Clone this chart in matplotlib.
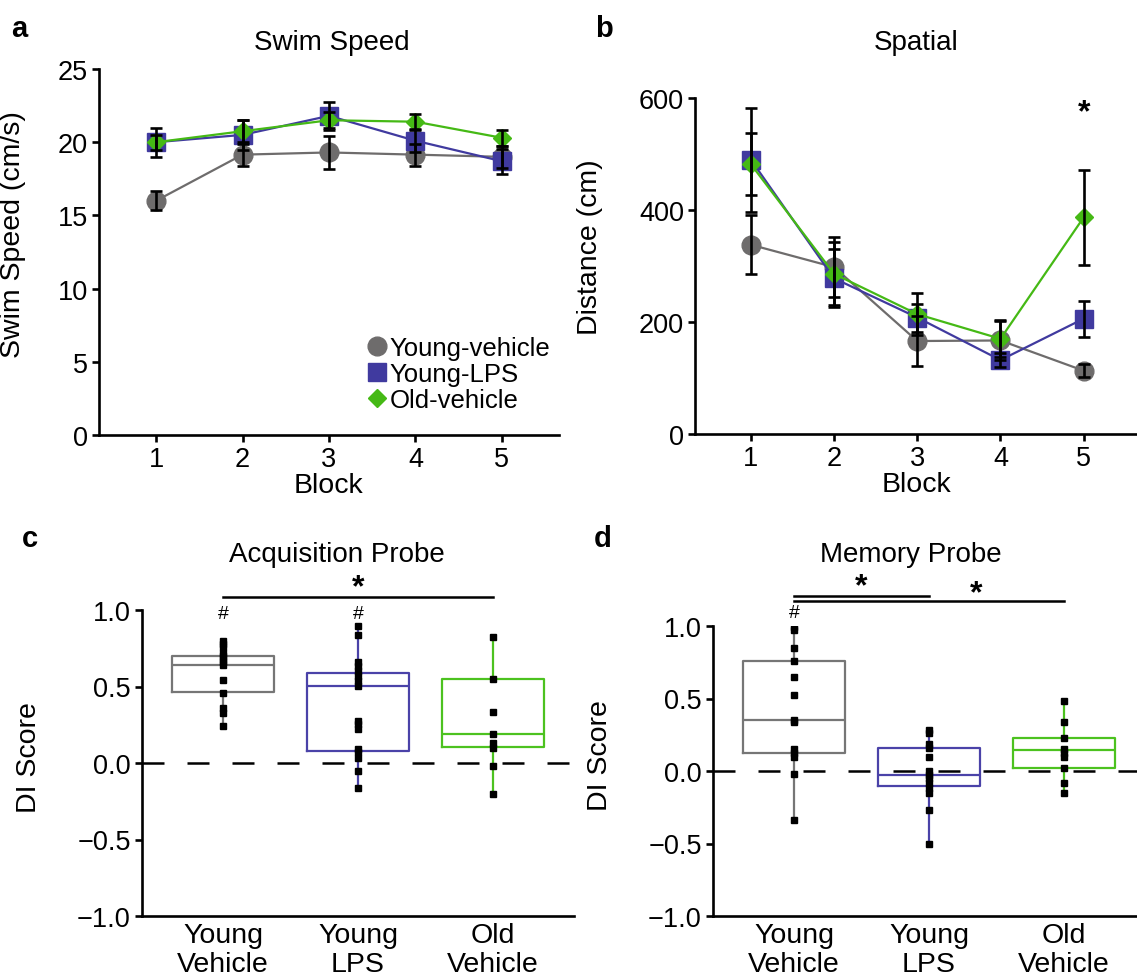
import numpy as np
import matplotlib
matplotlib.use("Agg")
import matplotlib.pyplot as plt

plt.rcParams["font.family"] = ["Liberation Sans", "DejaVu Sans"]

W, H = 1137, 979

# --- panel a/b: block-wise means +/- error ---
blocks = [1, 2, 3, 4, 5]
groups = ["Young-vehicle", "Young-LPS", "Old-vehicle"]

speed_yv = [16.0, 19.15, 19.3, 19.15, 19.0]
speed_yv_err = [0.65, 0.75, 1.1, 0.75, 0.75]
speed_lps = [20.0, 20.5, 21.8, 20.1, 18.7]
speed_lps_err = [0.5, 1.0, 0.95, 0.8, 0.85]
speed_old = [20.0, 20.75, 21.5, 21.4, 20.3]
speed_old_err = [1.0, 0.75, 0.55, 0.55, 0.55]

dist_yv = [338, 298, 166, 167, 113]
dist_yv_err = [53, 53, 44, 35, 12]
dist_lps = [490, 278, 208, 132, 206]
dist_lps_err = [93, 52, 25, 12, 32]
dist_old = [482, 286, 214, 170, 387]
dist_old_err = [55, 56, 38, 33, 85]

# --- panel c/d: DI score boxes and individual animals ---
probe_labels = ["Young\nVehicle", "Young\nLPS", "Old\nVehicle"]

acq_q1 = [0.465, 0.076, 0.102]
acq_med = [0.643, 0.504, 0.187]
acq_q3 = [0.70, 0.587, 0.548]
acq_lo = [0.243, -0.165, -0.202]
acq_hi = [0.80, 0.896, 0.824]
acq_pts_yv = [0.80, 0.78, 0.76, 0.72, 0.70, 0.68, 0.66, 0.64, 0.54, 0.46, 0.36, 0.33, 0.24]
acq_pts_lps = [0.895, 0.835, 0.657, 0.635, 0.60, 0.57, 0.537, 0.504, 0.276, 0.254,
               0.22, 0.09, 0.07, 0.03, -0.05, -0.165]
acq_pts_old = [0.824, 0.548, 0.335, 0.19, 0.128, 0.098, -0.017, -0.202]

mem_q1 = [0.123, -0.105, 0.02]
mem_med = [0.352, -0.025, 0.144]
mem_q3 = [0.76, 0.162, 0.226]
mem_lo = [-0.338, -0.505, -0.15]
mem_hi = [0.99, 0.283, 0.482]
mem_pts_yv = [0.99, 0.97, 0.847, 0.76, 0.646, 0.523, 0.352, 0.336, 0.15, 0.123, 0.10, -0.018, -0.338]
mem_pts_lps = [0.283, 0.26, 0.185, 0.162, 0.10, 0.0, -0.025, -0.05, -0.08, -0.117, -0.15, -0.27, -0.505]
mem_pts_old = [0.482, 0.338, 0.226, 0.15, 0.123, 0.096, 0.02, -0.082, -0.15]

C_GREY, C_BLUE, C_GREEN = "#6e6c6c", "#403a9f", "#45b915"
BOX_COLS = ["#767676", "#4a42a8", "#4cc21f"]

LW_AX = 1.9
FS_TICK, FS_LAB, FS_TITLE, FS_LET = 19.5, 20.5, 20, 21


def px_axes(l, t, r, b):
    return [l / W, 1 - b / H, (r - l) / W, (b - t) / H]


def style(ax):
    for s in ("top", "right"):
        ax.spines[s].set_visible(False)
    for s in ("left", "bottom"):
        ax.spines[s].set_linewidth(LW_AX)
    ax.tick_params(width=LW_AX, length=5, labelsize=FS_TICK, pad=3)


fig = plt.figure(figsize=(W / 100, H / 100), dpi=100)

# ---------------- a / b: swim speed, spatial ----------------
axa = fig.add_axes(px_axes(99, 70, 559, 436))
axb = fig.add_axes(px_axes(695, 99, 1137, 435))
for ax, series, yl in (
        (axa, [(speed_yv, speed_yv_err), (speed_lps, speed_lps_err), (speed_old, speed_old_err)],
         "Swim Speed (cm/s)"),
        (axb, [(dist_yv, dist_yv_err), (dist_lps, dist_lps_err), (dist_old, dist_old_err)],
         "Distance (cm)")):
    for (y, e), c, m, ms, lab in zip(series, (C_GREY, C_BLUE, C_GREEN), ("o", "s", "D"),
                                     (13.5, 13, 9), groups):
        ax.plot(blocks, y, "-", color=c, lw=1.6, marker=m, ms=ms, mec=c, mfc=c, label=lab)
        ax.errorbar(blocks, y, yerr=e, fmt="none", ecolor="k", elinewidth=1.9,
                    capsize=4, capthick=1.9, zorder=5)
    style(ax)
    ax.set_xlim(0.34, 5.66)
    ax.set_xticks(blocks)
    ax.set_xlabel("Block", fontsize=FS_LAB, labelpad=0)
    ax.set_ylabel(yl, fontsize=FS_LAB)

axa.set_ylim(0, 25)
axa.set_yticks([0, 5, 10, 15, 20, 25])
axa.yaxis.set_label_coords(-0.159, 0.55)
axb.set_ylim(0, 600)
axb.set_yticks([0, 200, 400, 600])
axb.set_xlim(0.33, 5.64)
axb.yaxis.set_label_coords(-0.208, 0.56)
axb.text(5, 575, "*", ha="center", va="center", fontsize=23, fontweight="bold")

axa.legend(loc="upper left", bbox_to_anchor=(368 / W, 1 - 337 / H),
           bbox_transform=fig.transFigure, frameon=False, fontsize=18.5,
           handlelength=0.7, handletextpad=0.15, labelspacing=0.08, borderpad=0,
           borderaxespad=0, markerscale=1.0)
# legend handles: markers only
for h in axa.get_legend().legend_handles:
    h.set_linestyle("none")

# ---------------- c / d: DI score boxes ----------------
axc = fig.add_axes(px_axes(142, 611, 574, 917))
axd = fig.add_axes(px_axes(713, 627, 1137, 917))
pos = [1, 2, 3]
for ax, q1, med, q3, lo, hi, pts in (
        (axc, acq_q1, acq_med, acq_q3, acq_lo, acq_hi, [acq_pts_yv, acq_pts_lps, acq_pts_old]),
        (axd, mem_q1, mem_med, mem_q3, mem_lo, mem_hi, [mem_pts_yv, mem_pts_lps, mem_pts_old])):
    stats = [dict(q1=a, med=b, q3=c, whislo=d, whishi=e, fliers=[])
             for a, b, c, d, e in zip(q1, med, q3, lo, hi)]
    ax.axhline(0, color="k", lw=1.8, dashes=(8.8, 9.2), zorder=0)
    bp = ax.bxp(stats, positions=pos, widths=0.75, showcaps=False, showfliers=False,
                boxprops=dict(lw=1.6), medianprops=dict(lw=1.6),
                whiskerprops=dict(lw=1.6))
    for i, c in enumerate(BOX_COLS):
        bp["boxes"][i].set_color(c)
        bp["medians"][i].set_color(c)
        bp["whiskers"][2 * i].set_color(c)
        bp["whiskers"][2 * i + 1].set_color(c)
    for p, vals in zip(pos, pts):
        ax.plot([p] * len(vals), vals, "s", color="k", ms=3.8, zorder=4)
    style(ax)
    ax.set_ylim(-1, 1)
    ax.set_yticks([-1, -0.5, 0, 0.5, 1])
    ax.set_xticks(pos)
    ax.set_xticklabels(probe_labels, fontsize=FS_LAB, linespacing=1.15)
    ax.tick_params(axis="x", length=0, pad=4)
    ax.set_ylabel("DI Score", fontsize=FS_LAB)

axc.set_xlim(0.4, 3.6)
axc.yaxis.set_label_coords(-0.231, 0.52)
axd.set_xlim(0.4, 3.54)
axd.yaxis.set_label_coords(-0.236, 0.555)

# significance marks
axc.plot([1, 3], [1.085, 1.085], color="k", lw=1.8, clip_on=False)
axc.text(2.0, 1.15, "*", ha="center", va="center", fontsize=23, fontweight="bold")
for x in (1, 2):
    axc.text(x, 0.98, "#", ha="center", va="center", fontsize=14)

axd.plot([1, 2], [1.207, 1.207], color="k", lw=1.8, clip_on=False)
axd.plot([1, 3], [1.172, 1.172], color="k", lw=1.8, clip_on=False)
axd.text(1.5, 1.276, "*", ha="center", va="center", fontsize=23, fontweight="bold")
axd.text(2.35, 1.228, "*", ha="center", va="center", fontsize=23, fontweight="bold")
axd.text(1, 1.09, "#", ha="center", va="center", fontsize=14)

# titles and panel letters
for x, y, t in ((332, 43, "Swim Speed"), (916, 43, "Spatial"),
                (337, 555, "Acquisition Probe"), (911, 555, "Memory Probe")):
    fig.text(x / W, 1 - y / H, t, ha="center", va="center", fontsize=FS_TITLE)
for x, y, t in ((19, 29, "a"), (604, 29, "b"), (30, 539, "c"), (603, 539, "d")):
    fig.text(x / W, 1 - y / H, t, ha="center", va="center", fontsize=FS_LET,
             fontweight="bold")

fig.savefig("out.png", dpi=100)
